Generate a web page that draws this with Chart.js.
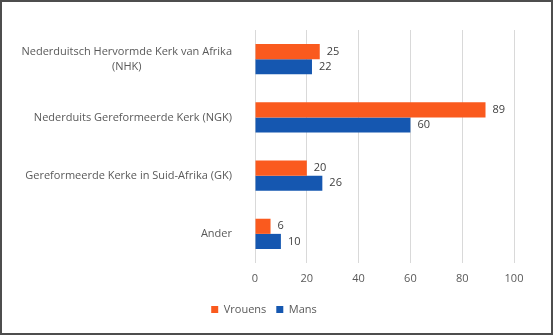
<!DOCTYPE html>
<html>
<head>
<meta charset="utf-8">
<script src="https://cdn.jsdelivr.net/npm/chart.js@4/dist/chart.umd.min.js"></script>
<style>
    html, body { margin: 0; padding: 0; background: #fff; }
    .frame {
        width: 553px; height: 335px;
        box-sizing: border-box;
        border: 2px solid #4d4d4d;
        background: #fff;
    }
    canvas { display: block; }
</style>
</head>
<body>
<div class="frame">
    <canvas id="chart" width="549" height="331"></canvas>
</div>
<script>
// --- DATA ---
const categories = [
    ["Nederduitsch Hervormde Kerk van Afrika", "(NHK)"],
    "Nederduits Gereformeerde Kerk (NGK)",
    "Gereformeerde Kerke in Suid-Afrika (GK)",
    "Ander"
];
const seriesNames = ["Vrouens", "Mans"];
const vrouens = [25, 89, 20, 6];
const mans = [22, 60, 26, 10];
const xTicks = [0, 20, 40, 60, 80, 100];

const ORANGE = "#fa5a1e";
const BLUE = "#1557b0";
const TEXT = "#595959";
const FONT = "'Open Sans', sans-serif";

// value labels at the end of every bar
const valueLabels = {
    id: "valueLabels",
    afterDatasetsDraw(chart) {
        const ctx = chart.ctx;
        ctx.save();
        ctx.font = "11px " + FONT;
        ctx.fillStyle = "#404040";
        ctx.textAlign = "left";
        ctx.textBaseline = "middle";
        chart.data.datasets.forEach((ds, i) => {
            chart.getDatasetMeta(i).data.forEach((bar, j) => {
                ctx.fillText(ds.data[j], bar.x + 7, bar.y);
            });
        });
        ctx.restore();
    }
};

// category labels: block right-aligned, lines centred in the block
const categoryLabels = {
    id: "categoryLabels",
    afterDraw(chart) {
        const ctx = chart.ctx;
        const y = chart.scales.y;
        const right = y.right - 23;
        ctx.save();
        ctx.font = "11px " + FONT;
        ctx.fillStyle = TEXT;
        ctx.textAlign = "center";
        ctx.textBaseline = "middle";
        categories.forEach((c, i) => {
            const lines = Array.isArray(c) ? c : [c];
            const w = Math.max(...lines.map(l => ctx.measureText(l).width));
            const cy = y.getPixelForValue(i);
            const lh = 15;
            lines.forEach((l, k) => {
                ctx.fillText(l, right - w / 2, cy + (k - (lines.length - 1) / 2) * lh);
            });
        });
        ctx.restore();
    }
};

new Chart(document.getElementById("chart"), {
    type: "bar",
    data: {
        labels: categories,
        datasets: [
            { label: seriesNames[0], data: vrouens, backgroundColor: ORANGE },
            { label: seriesNames[1], data: mans, backgroundColor: BLUE }
        ]
    },
    options: {
        indexAxis: "y",
        responsive: false,
        animation: false,
        layout: { padding: { top: 28, left: 12, right: 37, bottom: 8 } },
        datasets: { bar: { barPercentage: 1.0, categoryPercentage: 0.52 } },
        scales: {
            x: {
                min: 0, max: 100,
                afterBuildTicks: s => { s.ticks = xTicks.map(v => ({ value: v })); },
                afterFit: s => { s.height = 31; },
                grid: { color: "#d9d9d9", drawTicks: false },
                border: { display: false },
                ticks: { color: TEXT, font: { family: FONT, size: 11 }, padding: 9 }
            },
            y: {
                afterFit: s => { s.width = 241; },
                grid: { display: false },
                border: { display: false },
                ticks: { display: false }
            }
        },
        plugins: {
            legend: {
                position: "bottom",
                labels: {
                    color: TEXT,
                    font: { family: FONT, size: 11 },
                    boxWidth: 7, boxHeight: 7, padding: 10
                }
            },
            tooltip: { enabled: false }
        }
    },
    plugins: [valueLabels, categoryLabels]
});
</script>
</body>
</html>
